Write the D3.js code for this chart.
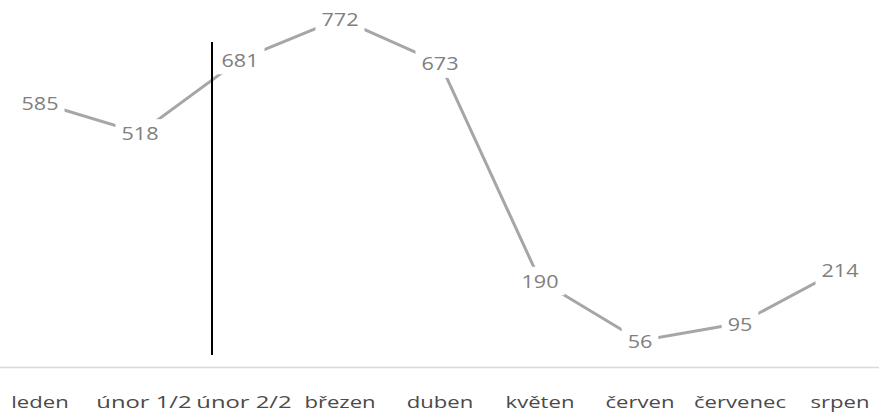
<!DOCTYPE html>
<meta charset="utf-8">
<head>
    <script src="https://d3js.org/d3.v7.min.js"></script>
    <style>
    body { margin: 0; background: #fff; }
    .line { fill: none; stroke: #a6a6a6; stroke-width: 3px; }
    .label { font: 18px "Open Sans"; fill: #808080; }
    .xlab { font: 17px "Open Sans"; fill: #4a4a4a; }
    </style>
</head>
<body>
<script>

// the data
var months = ["leden", "únor 1/2", "únor 2/2", "březen", "duben", "květen", "červen", "červenec", "srpen"];
var values = [585, 518, 681, 772, 673, 190, 56, 95, 214];
// position of the black marker line, in category steps from "leden"
var markerAt = 1.72;

var width = 879, height = 413;
var stretchX = 1.3;   // category text in the picture is wide
var stretchL = 1.2;   // data label text

var svg = d3.select("body").append("svg")
    .attr("width", width)
    .attr("height", height);

// set the ranges
var x = d3.scalePoint().domain(months).range([40, 840]);
var xi = d3.scaleLinear().domain([0, months.length - 1]).range([40, 840]);
var y = d3.scaleLinear().domain([0, 800]).range([366, 6]);

var data = months.map(function(m, i) { return {month: m, value: values[i]}; });

// axis line
svg.append("line")
    .attr("x1", 0).attr("x2", width)
    .attr("y1", y(0) + 1.5).attr("y2", y(0) + 1.5)
    .attr("stroke", "#d9d9d9")
    .attr("stroke-width", 1.5);

// category labels
svg.selectAll(".xlab")
    .data(months)
  .enter().append("text")
    .attr("class", "xlab")
    .attr("text-anchor", "middle")
    .attr("transform", function(d) {
        var half = d.indexOf("/") > 0;
        return "translate(" + (x(d) + (half ? 4 : 0)) + ",408) scale(" + (half ? 1.4 : stretchX) + ",1)";
    })
    .text(function(d) { return d; });

// the value line
var valueline = d3.line()
    .x(function(d) { return x(d.month); })
    .y(function(d) { return y(d.value); });

svg.append("path")
    .datum(data)
    .attr("class", "line")
    .attr("d", valueline);

// black vertical marker
svg.append("line")
    .attr("x1", xi(markerAt)).attr("x2", xi(markerAt))
    .attr("y1", 42).attr("y2", 355)
    .attr("stroke", "#000")
    .attr("stroke-width", 2);

// data labels with white boxes over the line
var lab = svg.selectAll(".lab")
    .data(data)
  .enter().append("g")
    .attr("transform", function(d) { return "translate(" + x(d.month) + "," + (y(d.value) + 1) + ") scale(" + stretchL + ",1)"; });

lab.append("text")
    .attr("class", "label")
    .attr("text-anchor", "middle")
    .attr("dy", "0.35em")
    .text(function(d) { return d.value; });

lab.each(function() {
    var g = d3.select(this);
    var b = g.select("text").node().getBBox();
    g.insert("rect", "text")
        .attr("x", b.x - 5).attr("y", b.y - 2)
        .attr("width", b.width + 10).attr("height", b.height + 4)
        .attr("fill", "#fff");
});

</script>
</body>
